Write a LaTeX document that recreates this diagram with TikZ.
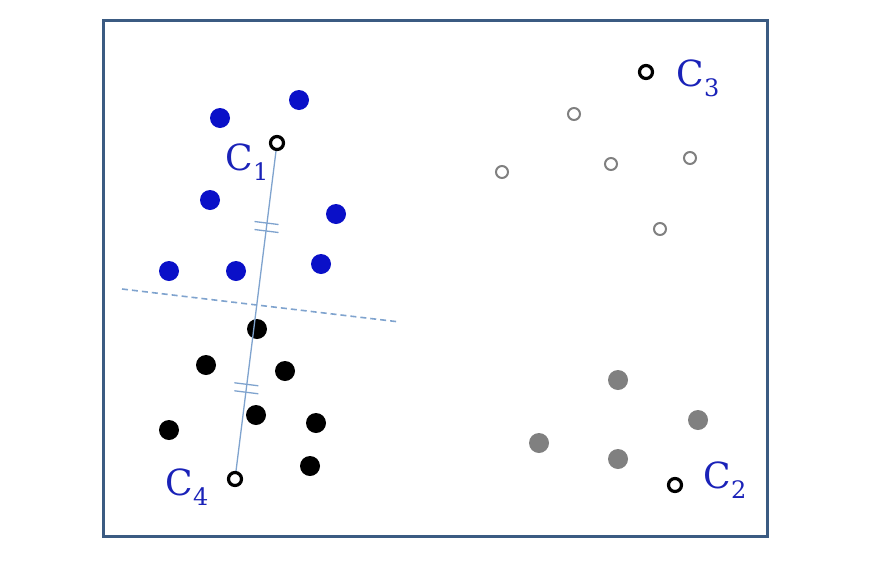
\documentclass[tikz,border=0pt]{standalone}
\usepackage{fontspec}
\newfontfamily\lblfont{DejaVu Serif}
\usetikzlibrary{calc}
\definecolor{frameblue}{HTML}{3B5B82}
\definecolor{dotblue}{HTML}{0A10C8}
\definecolor{lblblue}{HTML}{1A22B8}
\definecolor{lineblue}{HTML}{7FA3CE}
\definecolor{dotgray}{HTML}{808080}
\tikzset{
  bdot/.style={circle,fill=dotblue,inner sep=0pt,minimum size=20pt},
  kdot/.style={circle,fill=black,inner sep=0pt,minimum size=20pt},
  gdot/.style={circle,fill=dotgray,inner sep=0pt,minimum size=20pt},
  odot/.style={circle,draw=dotgray,line width=2pt,fill=white,inner sep=0pt,minimum size=12pt},
  cent/.style={circle,draw=black,line width=3.2pt,fill=white,inner sep=0pt,minimum size=13pt},
  lbl/.style={text=lblblue,font=\lblfont\fontsize{36}{40}\selectfont,inner sep=0pt},
  conn/.style={draw=lineblue,line width=1.3pt},
  tick/.style={draw=lineblue,line width=1.3pt}
}
\newcommand{\clab}[1]{C\raisebox{-0.28em}{\fontsize{24}{28}\selectfont #1}}
\begin{document}
\begin{tikzpicture}[x=1pt,y=-1pt]
\useasboundingbox (0,0) rectangle (878,560);
\node[draw=frameblue,line width=3pt,minimum width=664pt,minimum height=516pt,inner sep=0pt] (frame) at (435,278) {};
% blue cluster
\node[bdot] (b1) at (220,118) {};
\node[bdot] (b2) at (299,100) {};
\node[bdot] (b3) at (210,200) {};
\node[bdot] (b4) at (336,214) {};
\node[bdot] (b5) at (169,271) {};
\node[bdot] (b6) at (236,271) {};
\node[bdot] (b7) at (321,264) {};
% black cluster
\node[kdot] (k1) at (257,329) {};
\node[kdot] (k2) at (206,365) {};
\node[kdot] (k3) at (285,371) {};
\node[kdot] (k4) at (256,415) {};
\node[kdot] (k5) at (316,423) {};
\node[kdot] (k6) at (169,430) {};
\node[kdot] (k7) at (310,466) {};
% open gray cluster
\node[odot] (o1) at (574,114) {};
\node[odot] (o2) at (502,172) {};
\node[odot] (o3) at (611,164) {};
\node[odot] (o4) at (690,158) {};
\node[odot] (o5) at (660,229) {};
% gray filled cluster
\node[gdot] (g1) at (618,380) {};
\node[gdot] (g2) at (698,420) {};
\node[gdot] (g3) at (539,443) {};
\node[gdot] (g4) at (618,459) {};
% connector and bisector
\coordinate (c1p) at (277,143);
\coordinate (c4p) at (235,479);
\draw[conn] (c1p) -- (c4p);
\coordinate (d1) at (122,289);
\coordinate (d2) at (400,322);
\draw[draw=lineblue,line width=1.6pt,dash pattern=on 6pt off 4pt] (d1) -- (d2);
% equal-length ticks
\foreach \t in {0.25,0.73}{
  \coordinate (m) at ($(c1p)!\t!(c4p)$);
  \draw[tick] ($(m)+(-12,-5.5)$) -- ($(m)+(12,-2.5)$);
  \draw[tick] ($(m)+(-12,2.5)$) -- ($(m)+(12,5.5)$);
}
% centroids
\node[cent] (c1) at (c1p) {};
\node[cent] (c2) at (675,485) {};
\node[cent] (c3) at (646,72) {};
\node[cent] (c4) at (c4p) {};
% labels
\node[lbl] (l1) at (247,162) {\clab{1}};
\node[lbl] (l2) at (725,480) {\clab{2}};
\node[lbl] (l3) at (698,78) {\clab{3}};
\node[lbl] (l4) at (187,487) {\clab{4}};
\end{tikzpicture}
\end{document}
